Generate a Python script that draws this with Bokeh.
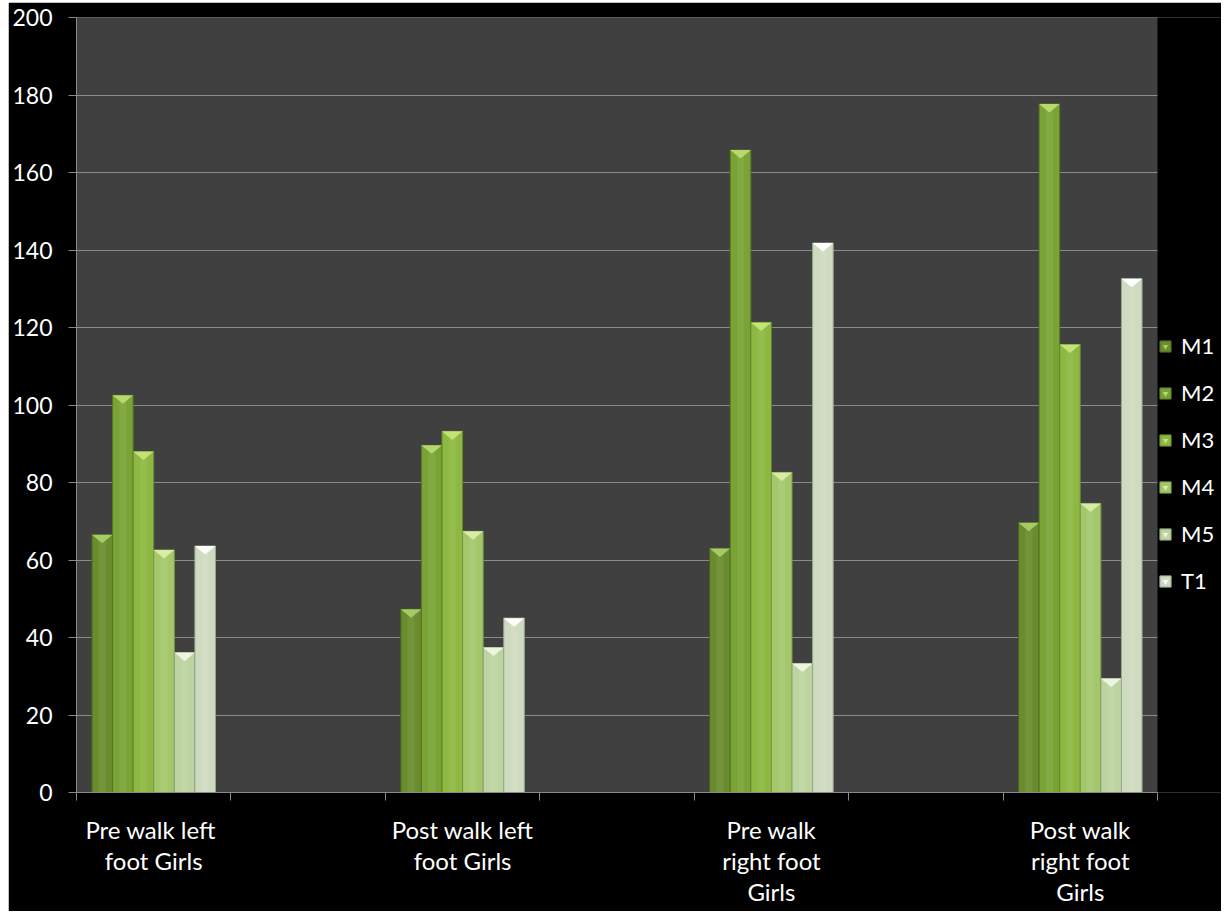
from bokeh.plotting import figure
from bokeh.models import (FixedTicker, Legend, LegendItem, ColumnDataSource)
from bokeh.embed import file_html
from bokeh.resources import INLINE

# ---- data ----
categories = ["Pre walk  left\nfoot Girls", "Post walk left\nfoot Girls",
              "Pre walk\nright foot\nGirls", "Post walk\nright foot\nGirls"]
series = ["M1", "M2", "M3", "M4", "M5", "T1"]
M1 = [66.5, 47.3, 63.0, 69.6]
M2 = [102.5, 89.6, 165.8, 177.7]
M3 = [88.0, 93.2, 121.3, 115.6]
M4 = [62.6, 67.4, 82.6, 74.6]
M5 = [36.1, 37.4, 33.3, 29.4]
T1 = [63.6, 45.0, 141.8, 132.6]
values = [M1, M2, M3, M4, M5, T1]
y_ticks = [0, 20, 40, 60, 80, 100, 120, 140, 160, 180, 200]

# ---- styles ----
bar_colors = ["#6a8c2d", "#7aa335", "#8db841", "#a4c76c", "#bdd4a0", "#cfdbc0"]
cap_colors = ["#a8ca64", "#b6d86d", "#c4e376", "#d8eca6", "#edf5df", "#ffffff"]
edge_colors = ["#4a631d", "#557524", "#64862b", "#7a9a48", "#8fa377", "#9aa68c"]
FONT = "Lato"

n_slots = 2 * len(categories) - 1  # blank categories between the labelled ones
group_pos = [2 * i + 0.5 for i in range(len(categories))]
bar_w = 0.8 / len(series)

FRAME_W = 1221 - 76          # frame spans axis line to right edge (legend lives inside)
PLOT_W = 1157 - 76           # visible plotting area width
x_end = n_slots * FRAME_W / PLOT_W

p = figure(width=1213, height=909, x_range=(0, x_end), y_range=(0, 200),
           output_backend="svg", toolbar_location=None,
           background_fill_color="#404040", border_fill_color="#000000",
           min_border_left=68, min_border_right=0, min_border_top=15,
           min_border_bottom=119, margin=(2, 0, 0, 8))
p.outline_line_color = None

# black strip covering the legend region to the right of the plotting area
p.quad(left=[n_slots], right=[x_end + 1], bottom=[-10], top=[210],
       fill_color="#000000", line_color=None)

items = []
for j, (name, vals) in enumerate(zip(series, values)):
    off = (j - (len(series) - 1) / 2) * bar_w
    xs = [g + off for g in group_pos]
    src = ColumnDataSource(dict(x=xs, top=vals))
    r = p.vbar(x="x", top="top", width=bar_w, bottom=0, source=src,
               fill_color=bar_colors[j], line_color=edge_colors[j], line_width=1)
    # soft highlight stripe
    p.vbar(x="x", top="top", width=bar_w * 0.35, bottom=0, source=src,
           fill_color="#ffffff", fill_alpha=0.07, line_color=None)
    # chevron cap at the top of each bar
    tri_x = [[x - bar_w / 2, x + bar_w / 2, x] for x in xs]
    tri_y = [[v, v, v - 2.2] for v in vals]
    p.patches(tri_x, tri_y, fill_color=cap_colors[j], line_color=None)
    lg = p.scatter(x=[xs[0]], y=[-50], marker="inverted_triangle", size=9,
                   fill_color=cap_colors[j], line_color=None)
    items.append(LegendItem(label=name, renderers=[r, lg]))

legend = Legend(items=items, location=(PLOT_W + 1, 198), orientation="vertical",
                background_fill_alpha=0, border_line_color=None,
                label_text_color="#ffffff", label_text_font=FONT,
                label_text_font_size="22px", glyph_width=14, glyph_height=14,
                label_height=25, spacing=20, padding=0, margin=0,
                label_standoff=9)
p.add_layout(legend)

# y axis
p.yaxis.ticker = FixedTicker(ticks=y_ticks)
p.yaxis.axis_line_color = "#8a8a8a"
p.yaxis.major_tick_line_color = "#8a8a8a"
p.yaxis.major_tick_out = 8
p.yaxis.major_tick_in = 0
p.yaxis.minor_tick_line_color = None
p.yaxis.major_label_text_color = "#ffffff"
p.yaxis.major_label_text_font = FONT
p.yaxis.major_label_text_font_size = "23px"
p.yaxis.major_label_standoff = 16

# x axis: labels at group centres, ticks at slot boundaries
p.xaxis.ticker = FixedTicker(ticks=group_pos, minor_ticks=list(range(n_slots + 1)))
p.xaxis.bounds = (0, n_slots)
p.xaxis.major_label_overrides = {g: c for g, c in zip(group_pos, categories)}
p.xaxis.axis_line_color = "#8a8a8a"
p.xaxis.major_tick_line_color = None
p.xaxis.major_tick_out = 0
p.xaxis.major_tick_in = 0
p.xaxis.minor_tick_line_color = "#8a8a8a"
p.xaxis.minor_tick_out = 8
p.xaxis.minor_tick_in = 0
p.xaxis.major_label_text_color = "#ffffff"
p.xaxis.major_label_text_font = FONT
p.xaxis.major_label_text_font_size = "24px"
p.xaxis.major_label_text_line_height = 1.08
p.xaxis.major_label_standoff = 14

p.xgrid.grid_line_color = None
p.ygrid.grid_line_color = "#8a8a8a"
p.ygrid.grid_line_width = 1

open("out.html", "w").write(file_html(p, INLINE))
